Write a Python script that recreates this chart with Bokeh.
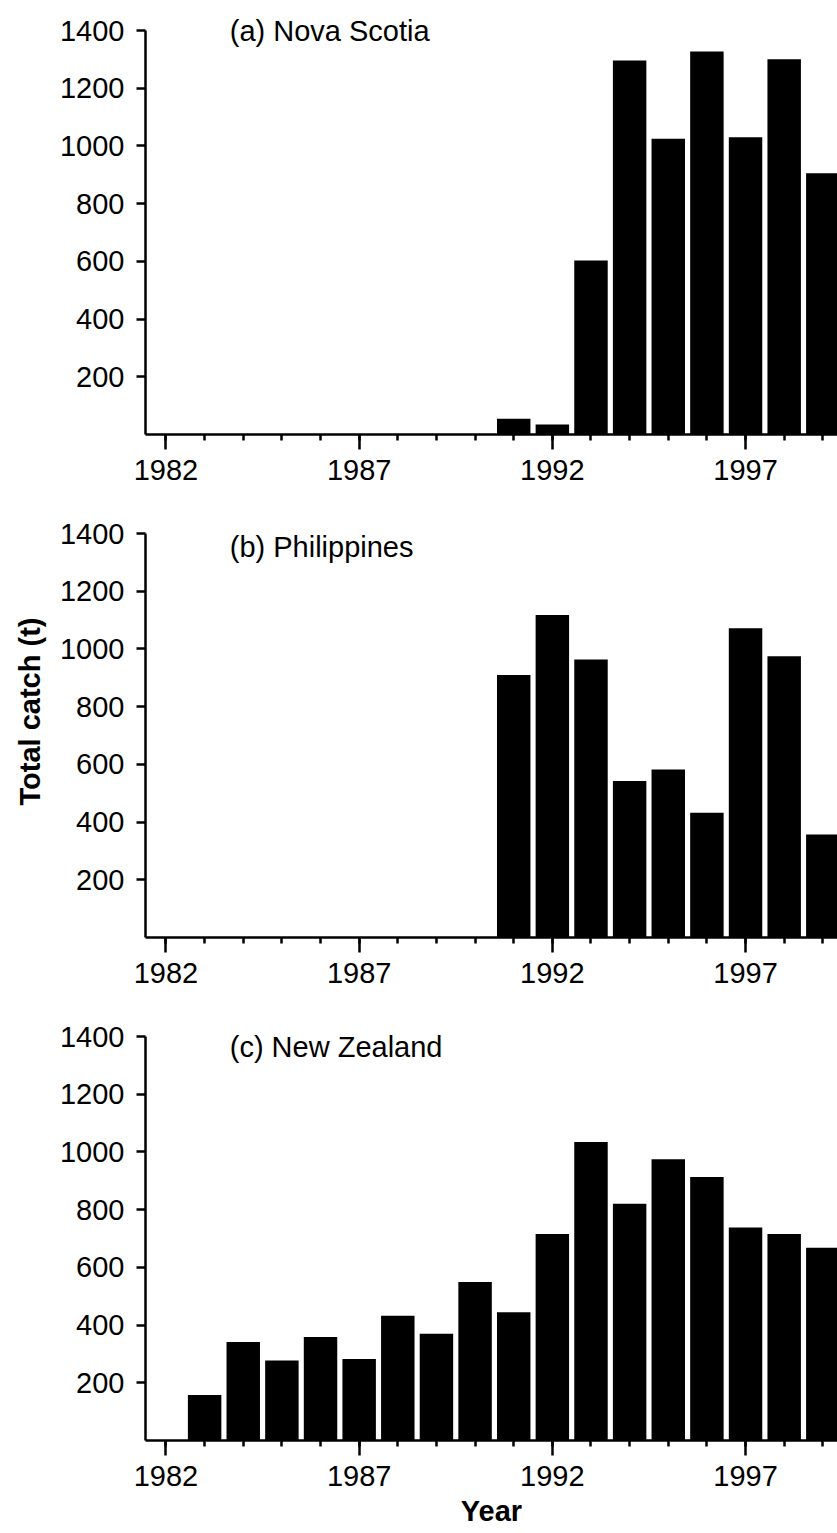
import math
from bokeh.plotting import figure
from bokeh.layouts import column
from bokeh.models import ColumnDataSource, FixedTicker, Label, Range1d, Title
from bokeh.embed import file_html
from bokeh.resources import INLINE

# ---- data ----
years = list(range(1982, 2000))
nova_scotia = [0, 0, 0, 0, 0, 0, 0, 0, 0, 55, 35, 603, 1296, 1025, 1327, 1030, 1300, 905]
philippines = [0, 0, 0, 0, 0, 0, 0, 0, 0, 910, 1118, 963, 542, 582, 432, 1072, 975, 357]
new_zealand = [0, 158, 341, 277, 359, 282, 432, 370, 549, 444, 716, 1034, 820, 975, 913, 738, 716, 668]

panel_titles = ["(a) Nova Scotia", "(b) Philippines", "(c) New Zealand"]
x_major_ticks = [1982, 1987, 1992, 1997]
y_ticks = [200, 400, 600, 800, 1000, 1200, 1400]
y_label = "Total catch (t)"
x_label = "Year"

FONT = "Liberation Sans"
FS = "29px"

series = [nova_scotia, philippines, new_zealand]
title_y = [1400, 1352, 1365]
heights = [503, 503, 525]
bottoms = [69, 69, 91]

figs = []
for i, (vals, ttl) in enumerate(zip(series, panel_titles)):
    p = figure(width=837, height=heights[i], output_backend="svg", toolbar_location=None,
               x_range=Range1d(1981.47, 1999.38), y_range=Range1d(0, 1400 * 424 / 404),
               min_border_left=145, min_border_right=0, min_border_top=10,
               min_border_bottom=bottoms[i], background_fill_color="white",
               border_fill_color="white")
    p.outline_line_color = None
    p.xgrid.visible = False
    p.ygrid.visible = False

    src = ColumnDataSource(dict(year=years, val=vals))
    p.vbar(x="year", top="val", width=0.866, source=src, fill_color="black", line_color=None)

    xa = p.xaxis[0]
    xa.ticker = FixedTicker(ticks=x_major_ticks, minor_ticks=years)
    xa.axis_line_width = 2.5
    xa.axis_line_color = "black"
    xa.major_tick_line_width = 2.5
    xa.major_tick_out = 15
    xa.major_tick_in = 0
    xa.minor_tick_line_width = 2.5
    xa.minor_tick_out = 6
    xa.minor_tick_in = 0
    xa.major_label_text_font = FONT
    xa.major_label_text_font_size = FS
    xa.major_label_text_color = "black"
    xa.major_label_standoff = 10

    ya = p.yaxis[0]
    ya.ticker = FixedTicker(ticks=y_ticks, minor_ticks=[])
    ya.bounds = (0, 1400)
    ya.axis_line_width = 2.5
    ya.axis_line_color = "black"
    ya.major_tick_line_width = 2.5
    ya.major_tick_out = 9
    ya.major_tick_in = 0
    ya.minor_tick_line_color = None
    ya.major_label_text_font = FONT
    ya.major_label_text_font_size = FS
    ya.major_label_text_color = "black"
    ya.major_label_standoff = 12

    p.add_layout(Label(x=1983.65, y=title_y[i], text=ttl, text_font=FONT,
                       text_font_size=FS, text_color="black",
                       text_align="left", text_baseline="middle"))
    figs.append(p)

# y axis title on the middle panel (left side, reading upward)
ytitle = Title(text=y_label, align="left", offset=132, text_font=FONT,
               text_font_size=FS, text_font_style="bold", text_color="black")
if "standoff" in ytitle.properties():
    ytitle.standoff = 21
figs[1].add_layout(ytitle, "left")

# x axis title on the bottom panel
xa = figs[2].xaxis[0]
xa.axis_label = x_label
xa.axis_label_text_font = FONT
xa.axis_label_text_font_size = FS
xa.axis_label_text_font_style = "bold"
xa.axis_label_text_color = "black"
xa.axis_label_standoff = 6

layout = column(*figs, spacing=0)
open("out.html", "w").write(file_html(layout, INLINE))
